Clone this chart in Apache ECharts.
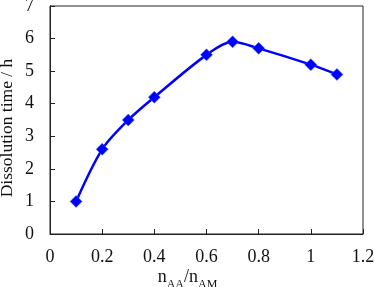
<!DOCTYPE html>
<html><head><meta charset="utf-8">
<script src="https://cdn.jsdelivr.net/npm/echarts@6/dist/echarts.min.js"></script>
<style>html,body{margin:0;padding:0;background:#fff}#c{width:374px;height:287px}</style>
</head><body><div id="c"></div>
<script>
const xValues = [0.1, 0.2, 0.3, 0.4, 0.6, 0.7, 0.8, 1.0, 1.1];
const dissolutionTime = [1.0, 2.6, 3.5, 4.2, 5.5, 5.9, 5.7, 5.2, 4.9];
const xTicks = [0, 0.2, 0.4, 0.6, 0.8, 1, 1.2];
const yTicks = [0, 1, 2, 3, 4, 5, 6, 7];

const font = '"Liberation Serif", "Times New Roman", serif';
const chart = echarts.init(document.getElementById('c'), null, {renderer: 'canvas'});
chart.setOption({
  animation: false,
  grid: {left: 50, right: 11, top: 6, bottom: 53, show: true, borderColor: '#222', borderWidth: 1,
         containLabel: false, outerBoundsMode: 'none'},
  xAxis: {
    type: 'value', min: 0, max: 1.2, interval: 0.2,
    axisLine: {lineStyle: {color: '#222', width: 1}},
    axisTick: {inside: true, length: 5, lineStyle: {color: '#222'}},
    splitLine: {show: false},
    axisLabel: {fontFamily: font, fontSize: 18, color: '#111', margin: 14,
      formatter: v => { const t = xTicks.find(x => Math.abs(x - v) < 1e-9); return t === undefined ? '' : String(t); }},
    name: '{n|n}{s|AA}{n|/n}{s|AM}',
    nameLocation: 'middle', nameGap: 34, nameMoveOverlap: false,
    nameTextStyle: {padding: [0, 38, 0, 0], rich: {
      n: {fontFamily: font, fontSize: 18, color: '#111'},
      s: {fontFamily: font, fontSize: 12, color: '#111', verticalAlign: 'bottom', padding: [0,0,-5,0]}
    }}
  },
  yAxis: {
    type: 'value', min: 0, max: 7, interval: 1,
    axisLine: {lineStyle: {color: '#222', width: 1}},
    axisTick: {inside: true, length: 5, lineStyle: {color: '#222'}},
    splitLine: {show: false},
    axisLabel: {fontFamily: font, fontSize: 18, color: '#111', margin: 16,
      formatter: v => String(yTicks.find(y => y === v))},
    name: 'Dissolution time / h',
    nameLocation: 'middle', nameGap: 34, nameMoveOverlap: false,
    nameTextStyle: {fontFamily: font, fontSize: 17.5, color: '#111', padding: [0, 16, 0, 0]}
  },
  series: [{
    type: 'line',
    data: xValues.map((x, i) => [x, dissolutionTime[i]]),
    smooth: 0.3,
    symbol: 'diamond', symbolSize: 12,
    lineStyle: {color: '#0000ff', width: 2.5},
    itemStyle: {color: '#0000ff', borderColor: '#3a6cff', borderWidth: 0.5}
  }]
});
</script></body></html>
